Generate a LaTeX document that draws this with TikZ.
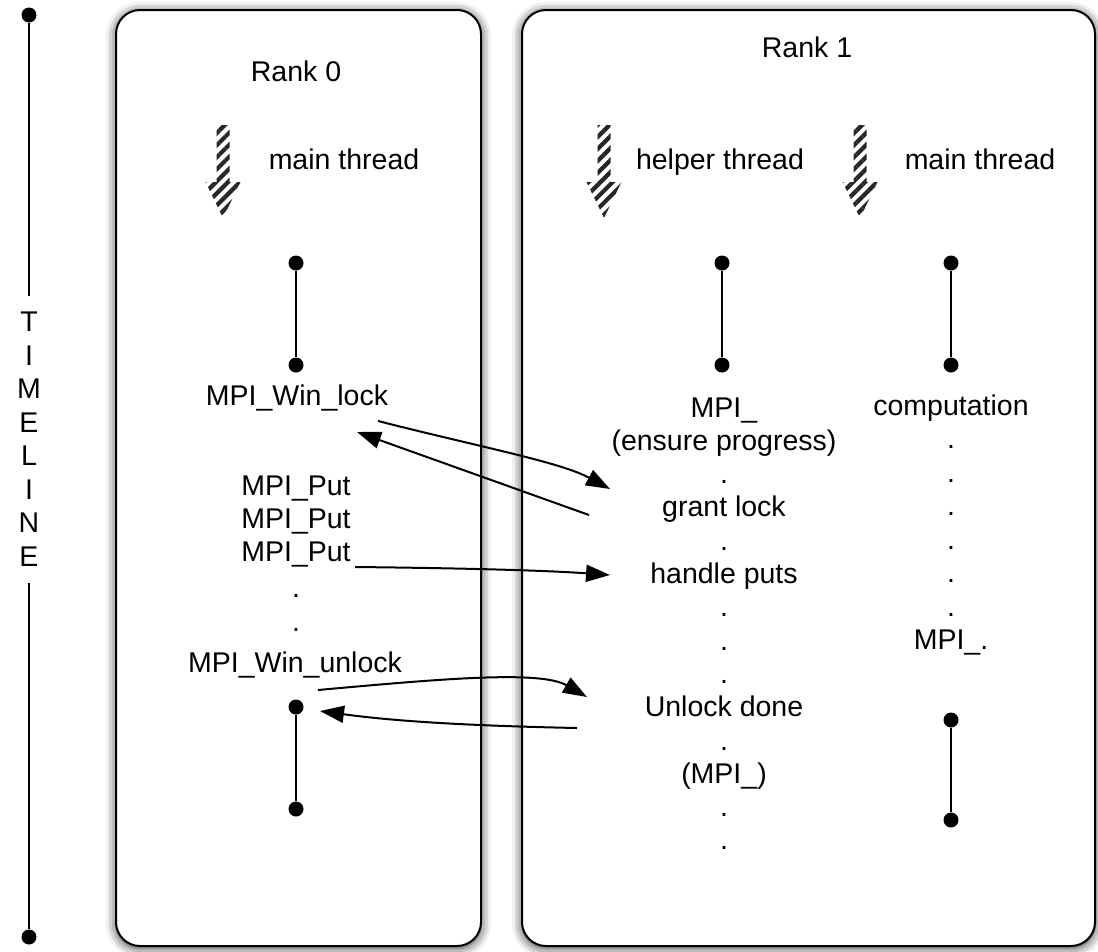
\documentclass[tikz,border=0pt]{standalone}
\usepackage{fontspec}
\setmainfont{Liberation Sans}
\usetikzlibrary{arrows.meta,patterns.meta,shadows.blur}
\begin{document}
\begin{tikzpicture}[x=1pt,y=-1pt,
  lbl/.style={inner sep=0pt, font=\fontsize{28.5}{33.5}\selectfont},
  rankbox/.style={draw, line width=2pt, rounded corners=24pt, fill=white,
    blur shadow={shadow xshift=0pt, shadow yshift=-2pt, shadow blur radius=10pt, shadow opacity=85}},
  tick/.style={circle, fill, inner sep=0pt, minimum size=15pt},
  seg/.style={line width=2pt},
  msg/.style={line width=2pt, -{Triangle[length=24pt,width=17pt]}},
  hatch/.style={pattern={Lines[angle=45,distance=8.5pt,line width=4.2pt]}, pattern color=black!85}
]
\useasboundingbox (0,0) rectangle (1098,951);

% the two processes
\node[rankbox, minimum width=365pt, minimum height=936pt] (box0) at (298.5,478) {};
\node[rankbox, minimum width=573pt, minimum height=936pt] (box1) at (808.5,478) {};

% time axis
\node[tick, minimum size=15pt] (ttop) at (29,15) {};
\node[tick, minimum size=15pt] (tbot) at (29,937) {};
\node[lbl, align=center, anchor=north] (tl) at (29,312) {T\\I\\M\\E\\L\\I\\N\\E};
\coordinate (tgapa) at (29,296);
\coordinate (tgapb) at (29,583);
\draw[seg] (ttop) -- (tgapa);
\draw[seg] (tgapb) -- (tbot);

% thread arrows
\foreach \x in {223,604,860}
  \fill[hatch] ({\x-6.5},125) -- ({\x+6.5},125) -- ({\x+6.5},182) -- ({\x+17.5},182)
     -- (\x,218) -- ({\x-17.5},182) -- ({\x-6.5},182) -- cycle;

% rank 0
\node[lbl, anchor=base] (r0) at (296,81) {Rank 0};
\node[lbl, anchor=base] (m0) at (344,169) {main thread};
\node[tick] (l0a) at (296,263) {};
\node[tick] (l0b) at (296,365) {};
\draw[seg] (l0a) -- (l0b);
\node[lbl, anchor=base] (winlock) at (297,405) {MPI\_Win\_lock};
\node[lbl, anchor=base] (put1) at (296,495) {MPI\_Put};
\node[lbl, anchor=base] (put2) at (296,528) {MPI\_Put};
\node[lbl, anchor=base] (put3) at (296,561) {MPI\_Put};
\node[lbl, anchor=base] (d1) at (296,597) {.};
\node[lbl, anchor=base] (d2) at (296,631) {.};
\node[lbl, anchor=base] (winunlock) at (295,672) {MPI\_Win\_unlock};
\node[tick] (l0c) at (296,707) {};
\node[tick] (l0d) at (296,809) {};
\draw[seg] (l0c) -- (l0d);

% rank 1
\node[lbl, anchor=base] (r1) at (807,57) {Rank 1};
\node[lbl, anchor=base] (hth) at (720,169) {helper thread};
\node[lbl, anchor=base] (m1) at (980,169) {main thread};
\node[tick] (h1a) at (722,263) {};
\node[tick] (h1b) at (722,365) {};
\draw[seg] (h1a) -- (h1b);
\node[tick] (m1a) at (951,263) {};
\node[tick] (m1b) at (951,365) {};
\draw[seg] (m1a) -- (m1b);
\node[tick] (m1c) at (951,720) {};
\node[tick] (m1d) at (951,820) {};
\draw[seg] (m1c) -- (m1d);

\foreach \t [count=\i] in {MPI\_, (ensure progress), ., grant lock, ., handle puts, ., ., ., Unlock done, ., (MPI\_), ., .}
  \node[lbl, anchor=base] (hc\i) at (724,{417+33.3*(\i-1)}) {\t};
\foreach \t [count=\i] in {computation, ., ., ., ., ., ., MPI\_.}
  \node[lbl, anchor=base] (mc\i) at (951,{415+33.5*(\i-1)}) {\t};

% messages
\coordinate (a1s) at (378,421);
\coordinate (a1e) at (610,489);
\draw[msg] (a1s) .. controls (480,447) and (560,462) .. (a1e);
\coordinate (a2s) at (589,515);
\coordinate (a2e) at (357,432);
\draw[msg] (a2s) -- (a2e);
\coordinate (a3s) at (355,567);
\coordinate (a3e) at (610,575);
\draw[msg] (a3s) .. controls (450,568) and (540,570) .. (a3e);
\coordinate (a4s) at (318,690);
\coordinate (a4e) at (587,697);
\draw[msg] (a4s) .. controls (440,679) and (540,670) .. (a4e);
\coordinate (a5s) at (577,728);
\coordinate (a5e) at (320,711);
\draw[msg] (a5s) .. controls (480,726) and (400,722) .. (a5e);
\end{tikzpicture}
\end{document}
